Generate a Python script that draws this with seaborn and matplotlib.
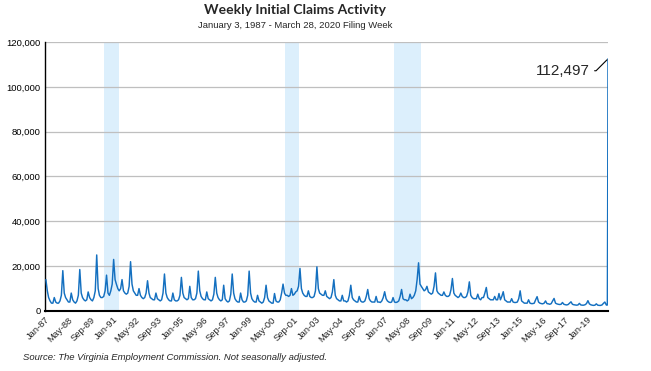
import matplotlib
matplotlib.use("Agg")
import matplotlib.pyplot as plt
import seaborn as sns
import pandas as pd
import numpy as np
from matplotlib import font_manager as fm
from matplotlib.ticker import FuncFormatter

# ---- data (weekly initial claims, thousands, read per month from chart) ----
c1987 = [14.0, 9.0, 6.0, 4.5, 3.5, 3.5, 6.0, 4.0, 3.5, 3.5, 4.5, 7.0]
c1988 = [18.0, 8.0, 6.0, 5.0, 4.0, 4.0, 8.0, 5.0, 4.0, 3.5, 4.5, 7.0]
c1989 = [18.5, 8.0, 6.0, 5.0, 4.5, 5.0, 8.5, 6.0, 5.0, 4.5, 6.0, 9.0]
c1990 = [25.0, 10.0, 7.0, 6.0, 6.0, 6.5, 9.0, 16.0, 8.0, 7.0, 9.0, 12.0]
c1991 = [23.0, 14.0, 12.0, 10.0, 9.0, 10.0, 14.0, 9.0, 8.0, 7.5, 8.0, 11.0]
c1992 = [22.0, 12.0, 9.0, 8.0, 7.0, 7.0, 10.0, 7.0, 6.0, 5.5, 6.0, 8.0]
c1993 = [13.5, 8.0, 6.0, 5.5, 5.0, 5.0, 8.0, 5.5, 5.0, 4.5, 5.0, 8.0]
c1994 = [16.5, 8.0, 6.0, 5.0, 4.5, 4.5, 8.0, 5.0, 4.5, 4.5, 5.0, 7.0]
c1995 = [15.0, 8.0, 6.0, 5.5, 5.0, 5.5, 11.0, 6.0, 5.0, 5.0, 5.5, 8.0]
c1996 = [17.8, 9.0, 6.5, 5.5, 5.0, 5.0, 8.5, 5.5, 5.0, 4.5, 5.0, 7.5]
c1997 = [15.0, 8.0, 6.0, 5.0, 4.5, 5.0, 11.5, 5.5, 4.5, 4.0, 4.5, 7.5]
c1998 = [16.5, 8.0, 5.5, 4.5, 4.0, 4.0, 8.0, 5.0, 4.0, 4.0, 4.5, 7.0]
c1999 = [17.8, 8.0, 5.5, 4.5, 4.0, 4.0, 7.0, 4.5, 4.0, 3.5, 4.0, 6.0]
c2000 = [11.5, 6.0, 4.5, 4.0, 3.5, 3.5, 7.8, 4.5, 4.0, 4.0, 5.0, 8.0]
c2001 = [12.0, 8.0, 7.0, 7.0, 6.5, 7.0, 10.0, 7.0, 7.5, 8.5, 9.0, 11.0]
c2002 = [19.0, 10.0, 8.0, 7.0, 6.5, 6.5, 9.0, 6.5, 6.0, 6.0, 6.5, 9.0]
c2003 = [19.7, 10.0, 8.0, 7.5, 7.0, 7.0, 9.0, 6.5, 6.0, 5.5, 6.0, 8.5]
c2004 = [14.0, 7.0, 5.5, 5.0, 4.5, 4.5, 7.0, 4.5, 4.5, 4.0, 4.5, 7.0]
c2005 = [11.5, 6.0, 5.0, 4.5, 4.0, 4.0, 6.5, 4.5, 4.0, 4.0, 4.5, 6.5]
c2006 = [9.6, 5.5, 4.5, 4.0, 4.0, 4.0, 6.5, 4.0, 4.0, 3.8, 4.5, 6.0]
c2007 = [8.6, 5.5, 4.5, 4.0, 3.8, 4.0, 6.0, 4.0, 3.8, 4.0, 4.5, 6.5]
c2008 = [9.6, 5.5, 5.0, 5.0, 4.5, 5.0, 7.5, 5.5, 6.0, 7.0, 9.0, 14.0]
c2009 = [21.5, 12.0, 11.0, 10.0, 9.0, 9.5, 11.0, 8.5, 8.0, 7.5, 8.0, 11.0]
c2010 = [17.0, 9.0, 8.0, 7.5, 7.0, 7.0, 8.5, 7.0, 6.5, 6.5, 7.0, 9.5]
c2011 = [14.5, 8.0, 7.0, 6.5, 6.0, 6.5, 8.0, 6.5, 6.0, 6.0, 6.5, 8.5]
c2012 = [13.0, 7.0, 6.0, 5.5, 5.5, 5.5, 7.5, 5.5, 5.0, 6.0, 6.0, 8.0]
c2013 = [10.5, 6.0, 5.5, 5.0, 5.0, 5.0, 6.5, 5.0, 5.0, 7.8, 5.0, 6.5]
c2014 = [8.6, 5.0, 4.5, 4.0, 4.0, 4.0, 5.5, 4.0, 3.8, 3.8, 4.0, 5.5]
c2015 = [9.0, 4.5, 4.0, 3.5, 3.5, 3.5, 5.0, 3.5, 3.3, 3.3, 3.5, 5.0]
c2016 = [6.4, 4.0, 3.5, 3.3, 3.2, 3.5, 4.5, 3.3, 3.2, 3.0, 3.3, 4.5]
c2017 = [5.6, 3.5, 3.2, 3.0, 2.9, 3.0, 3.8, 3.0, 2.8, 2.7, 2.9, 3.5]
c2018 = [4.1, 3.0, 2.8, 2.7, 2.6, 2.7, 3.4, 2.7, 2.6, 2.6, 2.8, 3.3]
c2019 = [4.6, 3.2, 2.8, 2.6, 2.5, 2.6, 3.2, 2.6, 2.5, 2.5, 2.7, 3.4]
c2020_monthly = [4.0, 2.7]
final_weeks = ["2020-03-07", "2020-03-14", "2020-03-21", "2020-03-28"]
final_values = [2.6, 2.7, 46.277, 112.497]

tick_labels = ["Jan-87", "May-88", "Sep-89", "Jan-91", "May-92", "Sep-93", "Jan-95",
               "May-96", "Sep-97", "Jan-99", "May-00", "Sep-01", "Jan-03", "May-04",
               "Sep-05", "Jan-07", "May-08", "Sep-09", "Jan-11", "May-12", "Sep-13",
               "Jan-15", "May-16", "Sep-17", "Jan-19"]
recessions = [("1990-06-25", "1991-05-10"), ("2001-03-05", "2001-12-20"),
              ("2007-08-15", "2009-03-10")]

years = [c1987, c1988, c1989, c1990, c1991, c1992, c1993, c1994, c1995, c1996,
         c1997, c1998, c1999, c2000, c2001, c2002, c2003, c2004, c2005, c2006,
         c2007, c2008, c2009, c2010, c2011, c2012, c2013, c2014, c2015, c2016,
         c2017, c2018, c2019, c2020_monthly]
monthly = [v for yr in years for v in yr]
month_dates = pd.date_range("1987-01-01", periods=len(monthly), freq="MS") + pd.Timedelta(days=19)
dates = list(month_dates) + list(pd.to_datetime(final_weeks))
vals = np.array(monthly + final_values) * 1000
df = pd.DataFrame({"date": dates, "claims": vals})

# ---- fonts ----
names = {f.name for f in fm.fontManager.ttflist}
NARROW = "Liberation Sans Narrow" if "Liberation Sans Narrow" in names else "Liberation Sans"
small = 1.0 if NARROW == "Liberation Sans Narrow" else 0.9

sns.set_style("white")
plt.rcParams["font.family"] = [NARROW, "DejaVu Sans"]

fig = plt.figure(figsize=(6.51, 3.71), dpi=100)
ax = fig.add_axes([45 / 651, 1 - 311 / 371, (608 - 45) / 651, (311 - 42) / 371])

for s, e in recessions:
    ax.axvspan(pd.Timestamp(s), pd.Timestamp(e), color="#DCEFFC", lw=0, zorder=0)

sns.lineplot(data=df, x="date", y="claims", ax=ax, color="#1470C0", lw=1.05, zorder=3)

ax.set_xlim(pd.Timestamp("1987-01-03"), pd.Timestamp("2020-03-28"))
ax.set_ylim(0, 120000)
ax.set_yticks(range(0, 120001, 20000))
ax.yaxis.set_major_formatter(FuncFormatter(lambda v, p: f"{v:,.0f}"))
ax.yaxis.grid(True, color="#BFBFBF", lw=0.9)
ax.xaxis.grid(False)
for gl in ax.get_ygridlines():
    gl.set_zorder(1)

ticks = [pd.to_datetime(t, format="%b-%y") for t in tick_labels]
ax.set_xticks(ticks)
ax.set_xticklabels(tick_labels, rotation=45, ha="right", va="top",
                   rotation_mode="anchor", fontsize=7.5 * small)
ax.tick_params(axis="both", length=0, pad=3)
ax.tick_params(axis="y", labelsize=7.6 * small, colors="black")
ax.set_xlabel("")
ax.set_ylabel("")

for sp in ["top", "right"]:
    ax.spines[sp].set_visible(False)
ax.spines["left"].set_color("black")
ax.spines["left"].set_linewidth(1.0)
ax.spines["bottom"].set_color("black")
ax.spines["bottom"].set_linewidth(1.5)

ax.annotate(f"{final_values[-1]*1000:,.0f}",
            xy=(pd.Timestamp(final_weeks[-1]), final_values[-1] * 1000),
            xytext=(-13, -8.6), textcoords="offset points",
            ha="right", va="center", fontsize=11, family="Liberation Sans",
            arrowprops=dict(arrowstyle="-", color="black", lw=0.8, shrinkA=1, shrinkB=1,
                            connectionstyle="angle,angleA=0,angleB=45,rad=0"))

fig.text(295 / 651, 1 - 10 / 371, "Weekly Initial Claims Activity", ha="center",
         va="center", fontsize=10, fontweight="bold", family=["Lato", "DejaVu Sans"])
fig.text(295 / 651, 1 - 26 / 371, "January 3, 1987 - March 28, 2020 Filing Week",
         ha="center", va="center", fontsize=8 * small * 0.95)
fig.text(23 / 651, 1 - 358 / 371,
         "Source: The Virginia Employment Commission. Not seasonally adjusted.",
         ha="left", va="center", fontsize=7.5 * small * 1.01, style="italic")

fig.savefig("out.png", dpi=100)
